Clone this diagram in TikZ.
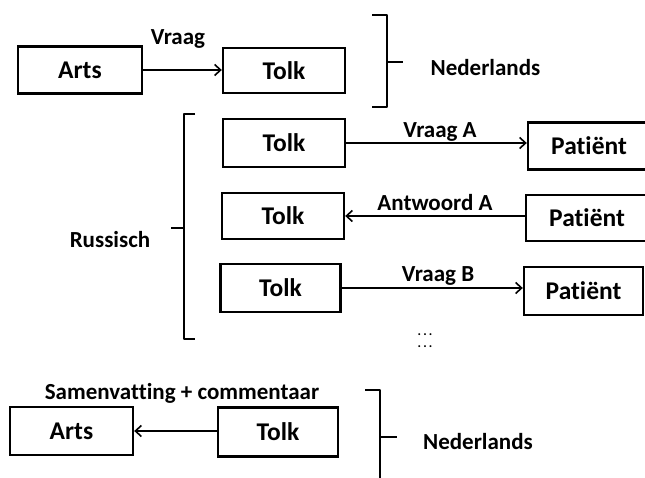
\documentclass[tikz,border=0pt]{standalone}
\usepackage{fontspec}
\setmainfont{Carlito}[Ligatures=NoCommon, RawFeature={-calt}]
\usetikzlibrary{arrows.meta}
\begin{document}
\begin{tikzpicture}[x=1pt,y=-1pt,
  box/.style={draw=black, line width=2.4pt, rectangle, inner sep=0pt,
    minimum width=122pt, minimum height=46pt,
    font=\fontsize{25.5}{28}\selectfont\bfseries},
  lbl/.style={inner sep=0pt, font=\fontsize{23}{26}\selectfont\bfseries},
  dotrow/.style={inner sep=0pt, font=\fontsize{13}{13}\selectfont\bfseries},
  flow/.style={line width=1.6pt, -{Straight Barb[length=6pt,width=11pt,line width=1.6pt]}},
  brace/.style={line width=1.8pt, line join=round}]
\useasboundingbox (0,0) rectangle (645,478);
\begin{scope}
\clip (0,0) rectangle (645,478);

% Doctor to interpreter, Dutch
\node[box, minimum width=124pt, minimum height=47pt] (arts1) at (80,70) {Arts};
\node[box, minimum height=45pt] (tolk1) at (284,70.5) {Tolk};
\draw[flow] (arts1.east) -- (tolk1.west |- arts1.east);
\node[lbl] (vraag) at (178,39) {Vraag};
\draw[brace] (372,15) -- (387,15) -- (387,107) -- (372,107);
\draw[brace] (387,62) -- (403,62);
\node[lbl] (ned1) at (485.5,68) {Nederlands};

% Interpreter and patient, Russian
\node[box, minimum height=48pt] (tolkA) at (284,143) {Tolk};
\node[box, minimum width=134pt, minimum height=47pt] (patA) at (595,146) {\hspace*{-12pt}Patiënt};
\draw[flow] (tolkA.east) -- (patA.west |- tolkA.east);
\node[lbl] (vrA) at (440,132) {Vraag A};

\node[box, minimum height=46pt] (tolkB) at (283,216) {Tolk};
\node[box, minimum width=134pt, minimum height=46pt] (patB) at (593,218) {\hspace*{-12pt}Patiënt};
\draw[flow] (patB.west |- tolkB.east) -- (tolkB.east);
\node[lbl] (antA) at (435,203) {Antwoord A};

\node[box, minimum width=120pt, minimum height=48pt] (tolkC) at (280.5,288) {Tolk};
\node[box, minimum width=119pt, minimum height=48pt] (patC) at (583.5,291) {Patiënt};
\draw[flow] (tolkC.east) -- (patC.west |- tolkC.east);
\node[lbl] (vrB) at (438,276) {Vraag B};

\node[dotrow] (dots1) at (425,335) {.\kern2.2pt.\kern2.2pt.};
\node[dotrow] (dots2) at (425,347) {.\kern2.2pt.\kern2.2pt.};

\draw[brace] (195,114) -- (184,114) -- (184,339) -- (195,339);
\draw[brace] (184,228) -- (171,228);
\node[lbl] (rus) at (110,240) {Russisch};

% Interpreter back to doctor, Dutch
\node[box, minimum width=123pt, minimum height=48pt] (arts2) at (71.5,431) {Arts};
\node[box, minimum width=120pt, minimum height=49pt] (tolk2) at (278,432) {Tolk};
\draw[flow] (tolk2.west |- arts2.east) -- (arts2.east);
\node[lbl] (samen) at (182,393) {Samenvatting + commentaar};
\draw[brace] (365,390) -- (380,390) -- (380,485);
\draw[brace] (380,437) -- (397,437);
\node[lbl] (ned2) at (478,442) {Nederlands};
\end{scope}
\end{tikzpicture}
\end{document}
